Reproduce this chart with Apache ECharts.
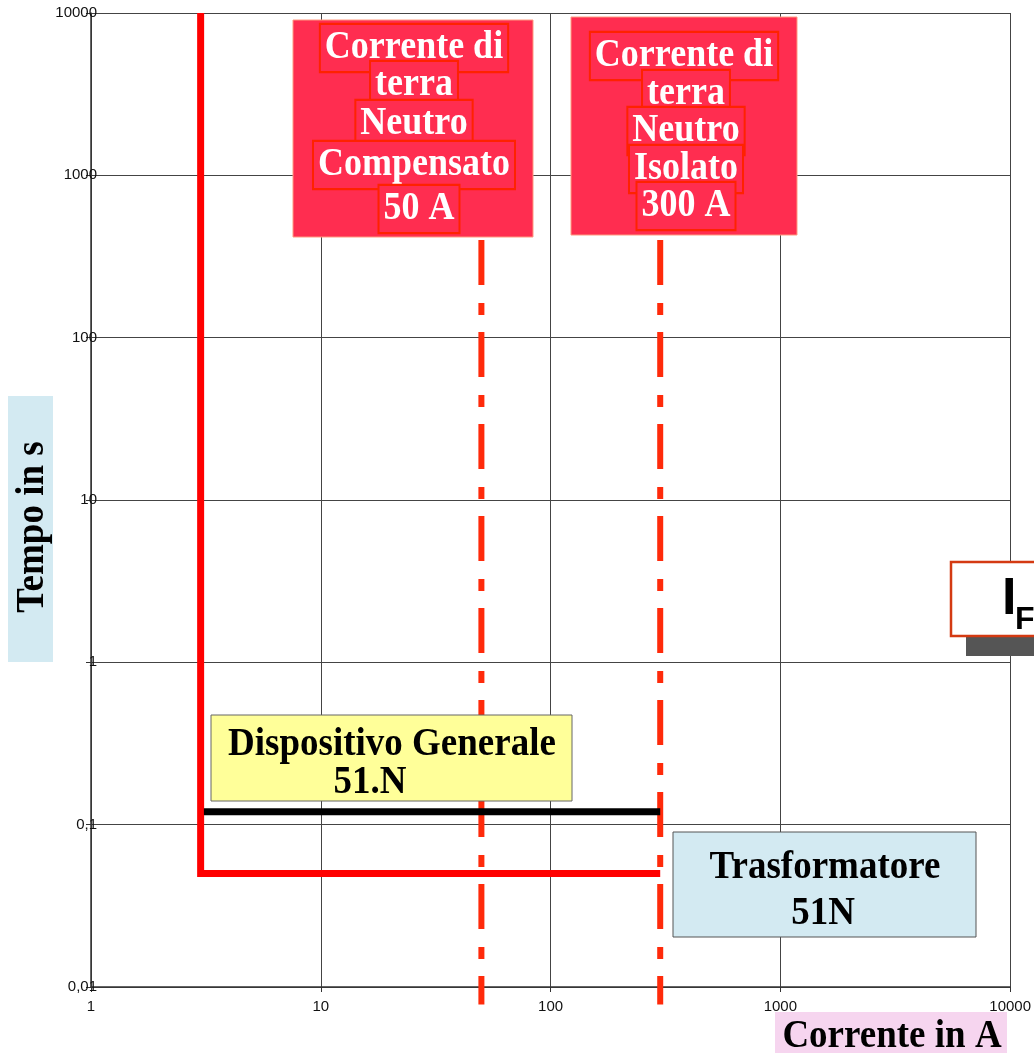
<!DOCTYPE html>
<html>
<head>
<meta charset="utf-8">
<script src="https://cdn.jsdelivr.net/npm/echarts@6/dist/echarts.min.js"></script>
<style>
html,body{margin:0;padding:0;background:#fff;}
#chart{width:1034px;height:1053px;}
</style>
</head>
<body>
<div id="chart"></div>
<script>
// ---- data ----
const xTickValues = [1, 10, 100, 1000, 10000];
const xTickLabels = ['1', '10', '100', '1000', '10000'];
const yTickValues = [0.01, 0.1, 1, 10, 100, 1000, 10000];
const yTickLabels = ['0,01', '0,1', '1', '10', '100', '1000', '10000'];

// Trasformatore 51N relay curve (current A, time s)
const trasfCurrent = [3, 3, 300];
const trasfTime = [10000, 0.05, 0.05];
// Dispositivo Generale 51.N
const generaleCurrent = [3.1, 300];
const generaleTime = [0.12, 0.12];
// Earth fault currents (vertical dash-dot lines)
const compensatoCurrent = [50, 50];
const compensatoTime = [400, 0.0078];
const isolatoCurrent = [300, 300];
const isolatoTime = [400, 0.0078];

const zip = (a, b) => a.map((v, i) => [v, b[i]]);

function fmt(values, labels) {
  return function (v) {
    let best = 0, bd = Infinity;
    values.forEach((t, i) => {
      const d = Math.abs(Math.log10(t) - Math.log10(v));
      if (d < bd) { bd = d; best = i; }
    });
    return bd < 0.01 ? labels[best] : '';
  };
}

const chart = echarts.init(document.getElementById('chart'));

const redFill = '#ff2d50';
const SY = 1.1;
const lineBox = (txt, x, y) => ({
  type: 'text', x: x, y: y, z: 20, scaleY: SY,
  style: {
    text: txt, fill: '#fff', font: 'bold 36px "Liberation Serif"',
    align: 'center', verticalAlign: 'middle',
    backgroundColor: redFill, borderColor: '#ff2200', borderWidth: 2,
    padding: [3, 4, 1, 4], lineHeight: 38
  }
});
const blackText = (txt, x, y, size) => ({
  type: 'text', z: 16, x: x, y: y, scaleY: SY,
  style: { text: txt, font: 'bold ' + size + 'px "Liberation Serif"', fill: '#000', align: 'center', verticalAlign: 'middle' }
});

const graphics = [
  // y axis title
  { type: 'rect', z: 10, shape: { x: 8, y: 396, width: 45, height: 266 }, style: { fill: '#d3eaf2' } },
  { type: 'text', z: 11, x: 32, y: 527, rotation: Math.PI / 2, scaleY: SY,
    style: { text: 'Tempo in s', font: 'bold 37px "Liberation Serif"', fill: '#000', align: 'center', verticalAlign: 'middle' } },
  // x axis title
  { type: 'rect', z: 10, shape: { x: 775, y: 1012, width: 232, height: 45 }, style: { fill: '#f6d5ef' } },
  blackText('Corrente in A', 892, 1036, 37),

  // red box 1
  { type: 'rect', z: 15, shape: { x: 293, y: 20, width: 240, height: 217 }, style: { fill: redFill, stroke: '#ff9a80', lineWidth: 1 } },
  lineBox('Corrente di', 414, 48),
  lineBox('terra', 414, 85),
  lineBox('Neutro', 414, 124),
  lineBox('Compensato', 414, 165),
  lineBox('50 A', 419, 209),

  // red box 2
  { type: 'rect', z: 15, shape: { x: 571, y: 17, width: 226, height: 218 }, style: { fill: redFill, stroke: '#ff9a80', lineWidth: 1 } },
  lineBox('Corrente di', 684, 56),
  lineBox('terra', 686, 94),
  lineBox('Neutro', 686, 131),
  lineBox('Isolato', 686, 169),
  lineBox('300 A', 686, 206),

  // yellow box
  { type: 'rect', z: 15, shape: { x: 211, y: 715, width: 361, height: 86 }, style: { fill: '#ffff99', stroke: '#666', lineWidth: 1 } },
  blackText('Dispositivo Generale', 392, 744, 37),
  blackText('51.N', 370, 782, 37),

  // blue box
  { type: 'rect', z: 15, shape: { x: 673, y: 832, width: 303, height: 105 }, style: { fill: '#d3eaf2', stroke: '#555', lineWidth: 1 } },
  blackText('Trasformatore', 825, 867, 37),
  blackText('51N', 823, 913, 37),

  // I_F box (cut by right edge)
  { type: 'rect', z: 15, shape: { x: 966, y: 636, width: 90, height: 20 }, style: { fill: '#555' } },
  { type: 'rect', z: 16, shape: { x: 951, y: 562, width: 100, height: 74 }, style: { fill: '#fff', stroke: '#d43a12', lineWidth: 2.5 } },
  { type: 'text', z: 17, x: 1002, y: 600,
    style: { text: 'I', font: 'bold 52px "Liberation Sans"', fill: '#000', align: 'left', verticalAlign: 'middle' } },
  { type: 'text', z: 17, x: 1015, y: 620,
    style: { text: 'F', font: 'bold 32px "Liberation Sans"', fill: '#000', align: 'left', verticalAlign: 'middle' } }
];

const option = {
  animation: false,
  backgroundColor: '#fff',
  grid: { left: 91, right: 23, top: 13, bottom: 66, containLabel: false },
  xAxis: {
    type: 'log', logBase: 10, min: 1, max: 10000,
    axisLine: { show: true, lineStyle: { color: '#333', width: 1.5 } },
    axisTick: { show: true, length: 5, inside: false, lineStyle: { color: '#333' } },
    axisLabel: { formatter: fmt(xTickValues, xTickLabels), color: '#111', fontFamily: 'Liberation Sans', fontSize: 15, margin: 12 },
    splitLine: { show: true, showMinLine: true, showMaxLine: true, lineStyle: { color: '#444', width: 1 } },
    minorTick: { show: false }
  },
  yAxis: {
    type: 'log', logBase: 10, min: 0.01, max: 10000,
    axisLine: { show: true, lineStyle: { color: '#333', width: 1.5 } },
    axisTick: { show: true, length: 5, inside: false, lineStyle: { color: '#333' } },
    axisLabel: { formatter: fmt(yTickValues, yTickLabels), color: '#111', fontFamily: 'Liberation Sans', fontSize: 15, margin: -6 },
    splitLine: { show: true, showMinLine: true, showMaxLine: true, lineStyle: { color: '#444', width: 1 } }
  },
  series: [
    { type: 'line', name: 'Neutro Compensato', data: zip(compensatoCurrent, compensatoTime), clip: false, symbol: 'none', z: 2,
      lineStyle: { color: '#ff2a0a', width: 6, type: [45, 18, 12, 17], cap: 'butt' } },
    { type: 'line', name: 'Neutro Isolato', data: zip(isolatoCurrent, isolatoTime), clip: false, symbol: 'none', z: 2,
      lineStyle: { color: '#ff2a0a', width: 6, type: [45, 18, 12, 17], cap: 'butt' } },
    { type: 'line', name: 'Trasformatore 51N', data: zip(trasfCurrent, trasfTime), symbol: 'none', z: 3,
      lineStyle: { color: '#ff0000', width: 7, join: 'miter' } },
    { type: 'line', name: 'Dispositivo Generale 51.N', data: zip(generaleCurrent, generaleTime), symbol: 'none', z: 3,
      lineStyle: { color: '#000', width: 7 } }
  ],
  graphic: { elements: graphics }
};

chart.setOption(option);
</script>
</body>
</html>
